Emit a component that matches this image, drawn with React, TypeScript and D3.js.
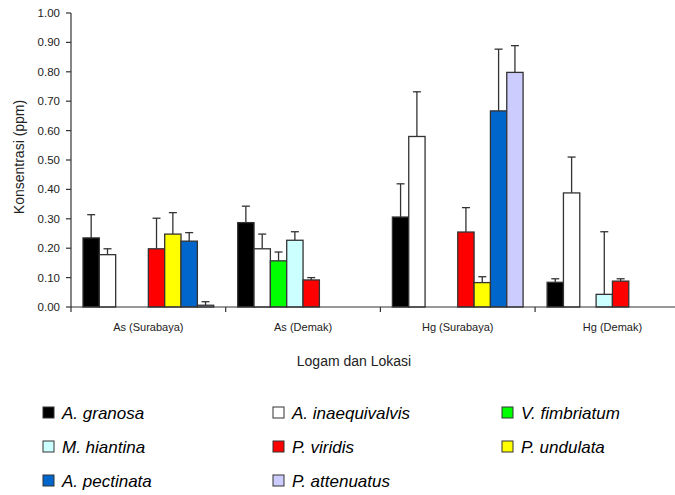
import React from "react";
import * as d3 from "d3";

const groups = ["As (Surabaya)", "As (Demak)", "Hg (Surabaya)", "Hg (Demak)"];
const species = [
  "A. granosa",
  "A. inaequivalvis",
  "V. fimbriatum",
  "M. hiantina",
  "P. viridis",
  "P. undulata",
  "A. pectinata",
  "P. attenuatus",
];
const colors = ["#000000", "#ffffff", "#00ff00", "#ccffff", "#ff0000", "#ffff00", "#0066cc", "#ccccff"];

// mean values per species across the 4 groups (null = no data)
const aGranosa = [0.235, 0.287, 0.306, 0.084];
const aInaequivalvis = [0.178, 0.198, 0.58, 0.388];
const vFimbriatum = [null, 0.157, null, null];
const mHiantina = [null, 0.227, null, 0.043];
const pViridis = [0.198, 0.092, 0.255, 0.088];
const pUndulata = [0.248, null, 0.083, null];
const aPectinata = [0.224, null, 0.667, null];
const pAttenuatus = [0.006, null, 0.798, null];

// upper end of error bars
const aGranosaErr = [0.314, 0.343, 0.419, 0.096];
const aInaequivalvisErr = [0.198, 0.248, 0.732, 0.51];
const vFimbriatumErr = [null, 0.187, null, null];
const mHiantinaErr = [null, 0.256, null, 0.256];
const pViridisErr = [0.302, 0.1, 0.338, 0.096];
const pUndulataErr = [0.321, null, 0.103, null];
const aPectinataErr = [0.253, null, 0.877, null];
const pAttenuatusErr = [0.018, null, 0.889, null];

const values = [aGranosa, aInaequivalvis, vFimbriatum, mHiantina, pViridis, pUndulata, aPectinata, pAttenuatus];
const errors = [aGranosaErr, aInaequivalvisErr, vFimbriatumErr, mHiantinaErr, pViridisErr, pUndulataErr, aPectinataErr, pAttenuatusErr];

const yTicks = [0, 0.1, 0.2, 0.3, 0.4, 0.5, 0.6, 0.7, 0.8, 0.9, 1.0];

export default function App() {
  const W = 675, H = 495;
  const x0 = 71, yBottom = 307, yTop = 13;
  const gw = 154.7;
  const xg = d3.scaleBand<string>().domain(groups).range([x0, x0 + gw * groups.length]).padding(0);
  const xs = d3.scaleBand<string>().domain(species).range([12, gw - 12]).padding(0);
  const y = d3.scaleLinear().domain([0, 1]).range([yBottom, yTop]);
  const font = "'Liberation Sans', Arial, Helvetica, sans-serif";
  const axisColor = "#333";

  const legendCols = [43, 273, 502];
  const legendRows = [413, 447, 481];

  return (
    <svg width={W} height={H} style={{ position: "absolute", left: 0, top: 0, background: "#fff" }} fontFamily={font}>
      {/* bars */}
      {groups.map((g, gi) => (
        <g key={g} transform={`translate(${xg(g)},0)`}>
          {species.map((s, si) => {
            const v = values[si][gi];
            if (v == null) return null;
            const e = errors[si][gi] as number;
            const bx = xs(s)!;
            const bw = xs.bandwidth();
            const cx = bx + bw / 2;
            return (
              <g key={s}>
                <line x1={cx} x2={cx} y1={y(v)} y2={y(e)} stroke={axisColor} strokeWidth={1.3} />
                <line x1={cx - 4} x2={cx + 4} y1={y(e)} y2={y(e)} stroke={axisColor} strokeWidth={1.3} />
                <rect x={bx} y={y(v)} width={bw} height={yBottom - y(v)} fill={colors[si]} stroke={axisColor} strokeWidth={1.3} />
              </g>
            );
          })}
        </g>
      ))}
      {/* y axis */}
      <line x1={x0} x2={x0} y1={yTop} y2={yBottom} stroke={axisColor} strokeWidth={1.2} />
      {yTicks.map((t) => (
        <g key={t}>
          <line x1={x0 - 5} x2={x0} y1={y(t)} y2={y(t)} stroke={axisColor} strokeWidth={1.2} />
          <text x={x0 - 11} y={y(t)} dy="0.35em" textAnchor="end" fontSize={11.5} fill="#222">
            {t.toFixed(2)}
          </text>
        </g>
      ))}
      <text transform={`translate(24,${(yTop + yBottom) / 2 - 3}) rotate(-90)`} textAnchor="middle" fontSize={14} fill="#222">
        Konsentrasi (ppm)
      </text>
      {/* x axis */}
      <line x1={x0} x2={W} y1={yBottom} y2={yBottom} stroke={axisColor} strokeWidth={1.2} />
      {groups.map((g) => (
        <g key={g}>
          <line x1={xg(g)!} x2={xg(g)!} y1={yBottom} y2={yBottom + 5} stroke={axisColor} strokeWidth={1.2} />
          <text x={xg(g)! + gw / 2} y={331} textAnchor="middle" fontSize={11} fill="#222">
            {g}
          </text>
        </g>
      ))}
      <text x={354} y={366} textAnchor="middle" fontSize={14} fill="#222">
        Logam dan Lokasi
      </text>
      {/* legend */}
      {species.map((s, i) => {
        const lx = legendCols[i % 3];
        const ly = legendRows[Math.floor(i / 3)];
        return (
          <g key={s}>
            <rect x={lx} y={ly - 6} width={11} height={11} fill={colors[i]} stroke={axisColor} strokeWidth={1} />
            <text x={lx + 19} y={ly} dy="0.35em" fontSize={17} fontStyle="italic" fill="#000">
              {s}
            </text>
          </g>
        );
      })}
    </svg>
  );
}
